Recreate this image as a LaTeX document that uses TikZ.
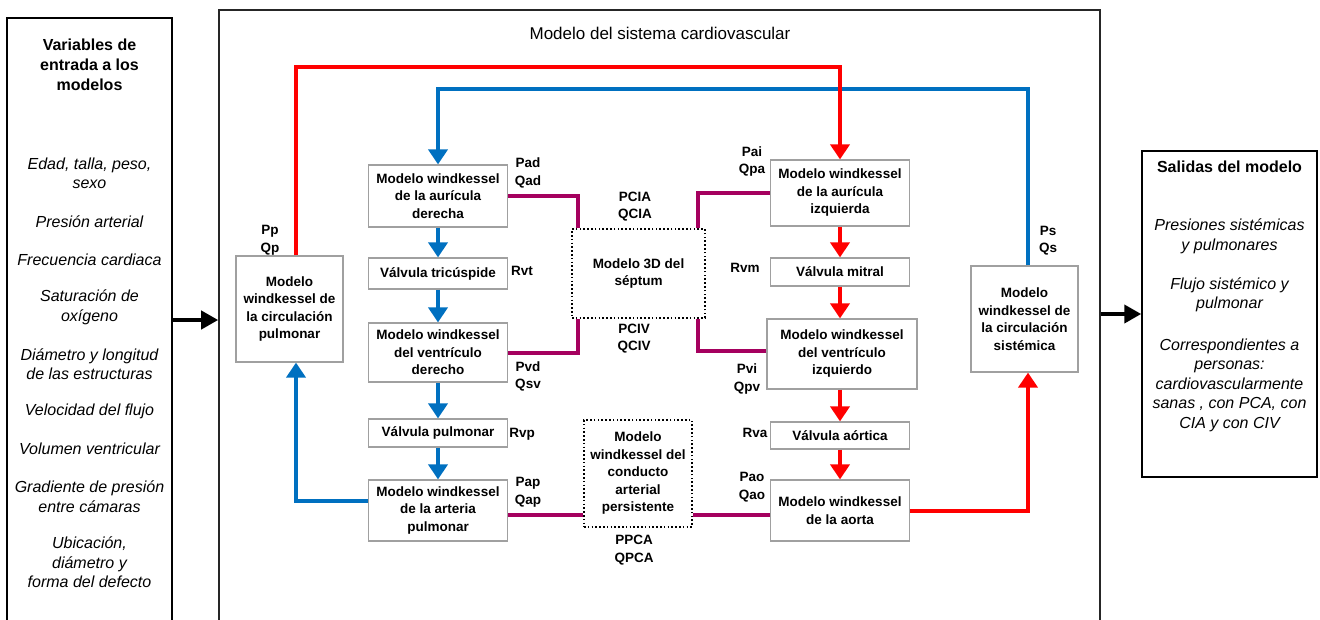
\documentclass[tikz,border=0pt]{standalone}
\usepackage{fontspec}
\setmainfont{Liberation Sans}
\usetikzlibrary{arrows.meta, positioning}
\definecolor{sangreazul}{RGB}{0,112,192}
\definecolor{sangreroja}{RGB}{255,0,0}
\definecolor{tabique}{RGB}{165,0,95}
\definecolor{bordegris}{RGB}{160,160,160}

\begin{document}
\begin{tikzpicture}[x=1pt, y=-1pt,
        modelo/.style={rectangle, draw=bordegris, line width=1.2pt, align=center, inner sep=2pt,
                       minimum width=139pt, font=\fontsize{13.5}{17.5}\selectfont\bfseries},
        defecto/.style={rectangle, draw=black, line width=1.6pt, dash pattern=on 1.6pt off 2.2pt,
                        align=center, inner sep=2pt, font=\fontsize{13.5}{17.5}\selectfont\bfseries},
        panel/.style={rectangle, draw=black, line width=2pt},
        etiqueta/.style={align=center, inner sep=0pt, font=\fontsize{13.5}{17.5}\selectfont\bfseries},
        texto/.style={align=center, inner sep=0pt, font=\fontsize{16}{19.5}\selectfont\itshape},
        encabezado/.style={align=center, inner sep=0pt, font=\fontsize{16}{20}\selectfont\bfseries},
        venosa/.style={line width=4pt, sangreazul},
        arterial/.style={line width=4pt, sangreroja},
        septal/.style={line width=4pt, tabique},
        punta/.style={-{Triangle[width=19pt,length=15pt]}},
        flecha/.style={-{Triangle[width=18pt,length=17pt]}, line width=4pt, black}
    ]
        \useasboundingbox (0,0) rectangle (1320,619);

        % Marcos exteriores
        \node[panel, minimum width=165pt, minimum height=604pt] (entrada) at (89.5,320) {};
        \node[panel, draw=black!85, line width=1.6pt, minimum width=881pt, minimum height=620pt] (sistema) at (659.5,320) {};
        \node[panel, line width=1.5pt, minimum width=175pt, minimum height=326pt] (salidas) at (1229.5,314) {};

        \node[font=\fontsize{17}{20}\selectfont] (titulo) at (660,33) {Modelo del sistema cardiovascular};

        % Variables de entrada
        \node[encabezado] (variables) at (89.5,65) {Variables de\\entrada a los\\modelos};
        \node[texto] (edad) at (89.5,173.5) {Edad, talla, peso,\\sexo};
        \node[texto] (presion) at (89.5,222) {Presión arterial};
        \node[texto] (frecuencia) at (89.5,260) {Frecuencia cardiaca};
        \node[texto] (saturacion) at (89.5,307.5) {Saturación de\\oxígeno};
        \node[texto] (diametro) at (89.5,364) {Diámetro y longitud\\de las estructuras};
        \node[texto] (velocidad) at (89.5,411) {Velocidad del flujo};
        \node[texto] (volumen) at (89.5,449) {Volumen ventricular};
        \node[texto] (gradiente) at (89.5,496.5) {Gradiente de presión\\entre cámaras};
        \node[texto] (ubicacion) at (89.5,562.5) {Ubicación,\\diámetro y\\forma del defecto};

        % Salidas del modelo
        \node[encabezado] (salidastit) at (1229.5,167) {Salidas del modelo};
        \node[texto] (presiones) at (1229.5,236.5) {Presiones sistémicas\\y pulmonares};
        \node[texto] (flujo) at (1229.5,295) {Flujo sistémico y\\pulmonar};
        \node[texto] (personas) at (1229.5,385) {Correspondientes a\\personas:\\cardiovascularmente\\sanas , con PCA, con\\CIA y con CIV};

        % Corazón derecho
        \node[modelo, minimum height=62pt] (ad) at (438,196) {Modelo windkessel\\de la aurícula\\derecha};
        \node[modelo, minimum height=31pt] (vt) at (438,273.5) {Válvula tricúspide};
        \node[modelo, minimum height=59pt] (vd) at (438,352.5) {Modelo windkessel\\del ventrículo\\derecho};
        \node[modelo, minimum height=28pt] (vp) at (438,433) {Válvula pulmonar};
        \node[modelo, minimum height=61pt] (ap) at (438,510.5) {Modelo windkessel\\de la arteria\\pulmonar};

        % Corazón izquierdo
        \node[modelo, minimum height=66pt] (ai) at (840,193) {Modelo windkessel\\de la aurícula\\izquierda};
        \node[modelo, minimum height=28pt] (vm) at (840,272) {Válvula mitral};
        \node[modelo, minimum width=150pt, minimum height=70pt] (vi) at (842,354) {Modelo windkessel\\del ventrículo\\izquierdo};
        \node[modelo, minimum height=27pt] (va) at (840,435.5) {Válvula aórtica};
        \node[modelo, minimum height=61pt] (ao) at (840,510.5) {Modelo windkessel\\de la aorta};

        % Circulaciones y defectos
        \node[modelo, minimum width=107pt, minimum height=106pt] (cp) at (289.5,309) {Modelo\\windkessel de\\la circulación\\pulmonar};
        \node[modelo, minimum width=107pt, minimum height=106pt] (cs) at (1024.5,319) {Modelo\\windkessel de\\la circulación\\sistémica};
        \node[defecto, minimum width=133pt, minimum height=89pt] (sep) at (638.5,273.5) {Modelo 3D del\\séptum};
        \node[defecto, minimum width=108pt, minimum height=107pt] (pca) at (638,473.5) {Modelo\\windkessel del\\conducto\\arterial\\persistente};

        % Variables de acople
        \node[etiqueta] (pp) at (270,240.5) {Pp\\Qp};
        \node[etiqueta] (pad) at (528,173) {Pad\\Qad};
        \node[etiqueta] (pcia) at (635,206.5) {PCIA\\QCIA};
        \node[etiqueta] (pai) at (752,161.5) {Pai\\Qpa};
        \node[etiqueta] (rvt) at (522,271) {Rvt};
        \node[etiqueta] (rvm) at (745,268) {Rvm};
        \node[etiqueta] (ps) at (1048,240.5) {Ps\\Qs};
        \node[etiqueta] (pvd) at (528,376.5) {Pvd\\Qsv};
        \node[etiqueta] (pciv) at (634,338.5) {PCIV\\QCIV};
        \node[etiqueta] (pvi) at (747,379) {Pvi\\Qpv};
        \node[etiqueta] (rvp) at (522,434) {Rvp};
        \node[etiqueta] (rva) at (755,433) {Rva};
        \node[etiqueta] (pap) at (528,492) {Pap\\Qap};
        \node[etiqueta] (pao) at (752,487) {Pao\\Qao};
        \node[etiqueta] (ppca) at (634,550) {PPCA\\QPCA};

        % Flujo venoso (lado derecho)
        \draw[venosa, punta] (ad) -- (vt);
        \draw[venosa, punta] (vt) -- (vd);
        \draw[venosa, punta] (vd) -- (vp);
        \draw[venosa, punta] (vp) -- (ap);
        \draw[venosa, punta] ([yshift=10pt]ap.west) -| ([xshift=6.5pt]cp.south);
        \draw[venosa, punta] ([xshift=3.5pt]cs.north) -- ++(0,-176) -| (ad.north);

        % Flujo arterial (lado izquierdo)
        \draw[arterial, punta] ([xshift=6.5pt]cp.north) -- ++(0,-188) -| (ai.north);
        \draw[arterial, punta] (ai) -- (vm);
        \draw[arterial, punta] (vm) -- (vi.north -| vm);
        \draw[arterial, punta] (vi.south -| va) -- (va);
        \draw[arterial, punta] (va) -- (ao);
        \draw[arterial, punta] (ao.east) -| ([xshift=3.5pt]cs.south);

        % Acoples con los defectos
        \draw[septal] (ad.east) -| ([xshift=7pt]sep.north west);
        \draw[septal] (ai.west) -| ([xshift=-8pt]sep.north east);
        \draw[septal] (vd.east) -| ([xshift=7pt]sep.south west);
        \draw[septal] ([yshift=3pt]vi.west) -| ([xshift=-8pt]sep.south east);
        \coordinate (ductus) at ([yshift=-4.5pt]ap.east);
        \draw[septal] (ductus) -- (ductus -| pca.west);
        \draw[septal] (ductus -| pca.east) -- (ductus -| ao.west);

        % Entradas y salidas
        \draw[flecha] (entrada) -- (sistema);
        \draw[flecha] (sistema.east |- salidas) -- (salidas);
    \end{tikzpicture}
\end{document}
